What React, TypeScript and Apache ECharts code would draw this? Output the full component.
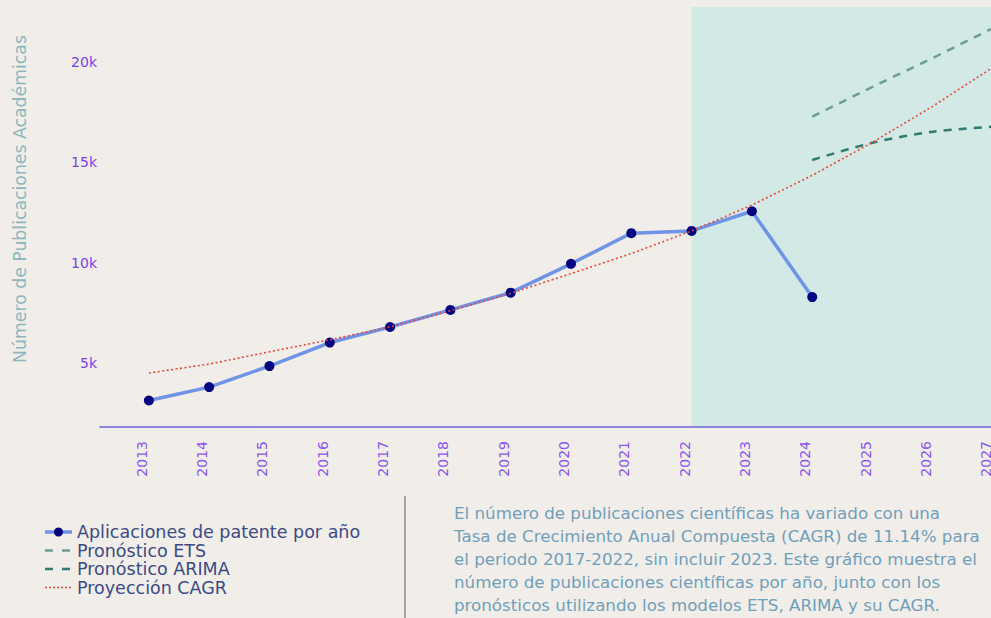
import React, { useEffect, useRef } from "react";
import * as echarts from "echarts";

const blueYears = [2013, 2014, 2015, 2016, 2017, 2018, 2019, 2020, 2021, 2022, 2023, 2024];
const blueValues = [3120, 3790, 4840, 6010, 6790, 7640, 8500, 9940, 11470, 11580, 12560, 8280];
const forecastYears = [2024, 2025, 2026, 2027];
const etsValues = [17280, 18770, 20210, 21700];
const arimaValues = [15120, 15980, 16530, 16780];
const cagrYears = [2013, 2014, 2015, 2016, 2017, 2018, 2019, 2020, 2021, 2022, 2023, 2024, 2025, 2026, 2027];
const cagrValues = [4490, 4940, 5550, 6150, 6790, 7600, 8470, 9450, 10450, 11580, 12870, 14350, 16000, 17800, 19750];
const xTickYears = [2013, 2014, 2015, 2016, 2017, 2018, 2019, 2020, 2021, 2022, 2023, 2024, 2025, 2026, 2027];
const yTickValues = [5000, 10000, 15000, 20000];
const forecastStartYear = 2022;

const seriesNames = [
  "Aplicaciones de patente por año",
  "Pronóstico ETS",
  "Pronóstico ARIMA",
  "Proyección CAGR",
];

const paragraph = [
  "El número de publicaciones científicas ha variado con una",
  "Tasa de Crecimiento Anual Compuesta (CAGR) de 11.14% para",
  "el periodo 2017-2022, sin incluir 2023. Este gráfico muestra el",
  "número de publicaciones científicas por año, junto con los",
  "pronósticos utilizando los modelos ETS, ARIMA y su CAGR.",
];

const FONT = "'DejaVu Sans', sans-serif";
const X_MIN = 2012.19;
const X_MAX = 2027.81;
const Y_MIN = 1800;
const Y_MAX = 22750;

const C_BLUE = "#6f93e6";
const C_NAVY = "#000080";
const C_ETS = "#6e9c95";
const C_ARIMA = "#2f7a72";
const C_CAGR = "#e8473f";

const zip = (xs: number[], ys: number[]) => xs.map((x, i) => [x, ys[i]]);

function legendGraphics() {
  const rowY = [532, 550.5, 569, 587.5];
  const x1 = 45;
  const x2 = 72;
  const styles = [
    { stroke: C_BLUE, lineWidth: 3.5 },
    { stroke: C_ETS, lineWidth: 2.5, lineDash: [8, 9] },
    { stroke: C_ARIMA, lineWidth: 2.5, lineDash: [8, 9] },
    { stroke: C_CAGR, lineWidth: 1.6, lineDash: [2, 2] },
  ];
  const out: any[] = [];
  seriesNames.forEach((name, i) => {
    out.push({
      type: "line",
      shape: { x1, y1: rowY[i], x2, y2: rowY[i] },
      style: styles[i],
    });
    if (i === 0) {
      out.push({
        type: "circle",
        shape: { cx: 58.5, cy: rowY[i], r: 4.5 },
        style: { fill: C_NAVY },
      });
    }
    out.push({
      type: "text",
      x: 77,
      y: rowY[i],
      style: {
        text: name,
        fill: "#3b4a86",
        fontSize: 17.5,
        fontFamily: FONT,
        align: "left",
        verticalAlign: "middle",
      },
    });
  });
  return out;
}

export default function App() {
  const ref = useRef<HTMLDivElement>(null);

  useEffect(() => {
    if (!ref.current) return;
    const chart = echarts.init(ref.current, null, { renderer: "svg" });
    chart.setOption({
      animation: false,
      backgroundColor: "#f1eeea",
      textStyle: { fontFamily: FONT },
      grid: { left: 100, top: 7, bottom: 191, right: 8, containLabel: false },
      xAxis: {
        type: "value",
        min: X_MIN,
        max: X_MAX,
        axisLine: { show: true, onZero: false, lineStyle: { color: "#6b63d9", width: 1.5 } },
        axisTick: { show: false },
        splitLine: { show: false },
        axisLabel: {
          customValues: xTickYears,
          rotate: 90,
          margin: 14,
          verticalAlign: "bottom",
          color: "#8a55f0",
          fontSize: 14,
          fontFamily: FONT,
          formatter: (v: number) => String(Math.round(v)),
        },
      },
      yAxis: {
        type: "value",
        min: Y_MIN,
        max: Y_MAX,
        axisLine: { show: false },
        axisTick: { show: false },
        splitLine: { show: false },
        axisLabel: {
          customValues: yTickValues,
          margin: 3,
          color: "#7b3fef",
          fontSize: 14,
          fontFamily: FONT,
          formatter: (v: number) => v / 1000 + "k",
        },
      },
      series: [
        {
          name: seriesNames[0],
          type: "line",
          data: zip(blueYears, blueValues),
          symbol: "circle",
          symbolSize: 10,
          lineStyle: { color: C_BLUE, width: 3.5 },
          itemStyle: { color: C_NAVY },
          z: 5,
          markArea: {
            silent: true,
            itemStyle: { color: "#d2e9e5" },
            data: [[{ xAxis: forecastStartYear }, { xAxis: X_MAX }]],
            z: 0,
          },
        },
        {
          name: seriesNames[1],
          type: "line",
          data: zip(forecastYears, etsValues),
          symbol: "none",
          lineStyle: { color: C_ETS, width: 2.5, type: [8, 7] },
          itemStyle: { color: C_ETS },
        },
        {
          name: seriesNames[2],
          type: "line",
          data: zip(forecastYears, arimaValues),
          symbol: "none",
          smooth: 0.3,
          lineStyle: { color: C_ARIMA, width: 2.5, type: [8, 7] },
          itemStyle: { color: C_ARIMA },
        },
        {
          name: seriesNames[3],
          type: "line",
          data: zip(cagrYears, cagrValues),
          symbol: "none",
          lineStyle: { color: C_CAGR, width: 1.6, type: [2, 2.5] },
          itemStyle: { color: C_CAGR },
          z: 6,
        },
      ],
      graphic: [
        {
          type: "text",
          x: 20,
          y: 199,
          rotation: Math.PI / 2,
          style: {
            text: "Número de Publicaciones Académicas",
            fill: "#8db6bd",
            fontSize: 17.3,
            fontFamily: FONT,
            align: "center",
            verticalAlign: "middle",
          },
        },
        {
          type: "line",
          shape: { x1: 405, y1: 496, x2: 405, y2: 618 },
          style: { stroke: "#8a8a8a", lineWidth: 1.5 },
        },
        {
          type: "text",
          x: 454,
          y: 501,
          style: {
            text: paragraph.join("\n"),
            fill: "#6f9fba",
            fontSize: 16.7,
            lineHeight: 23,
            fontFamily: FONT,
            align: "left",
            verticalAlign: "top",
          },
        },
        ...legendGraphics(),
      ],
    });
    return () => chart.dispose();
  }, []);

  return (
    <div
      style={{
        position: "fixed",
        left: 0,
        top: 0,
        width: 991,
        height: 618,
        overflow: "hidden",
      }}
    >
      <div ref={ref} style={{ width: 1050, height: 618 }} />
    </div>
  );
}
